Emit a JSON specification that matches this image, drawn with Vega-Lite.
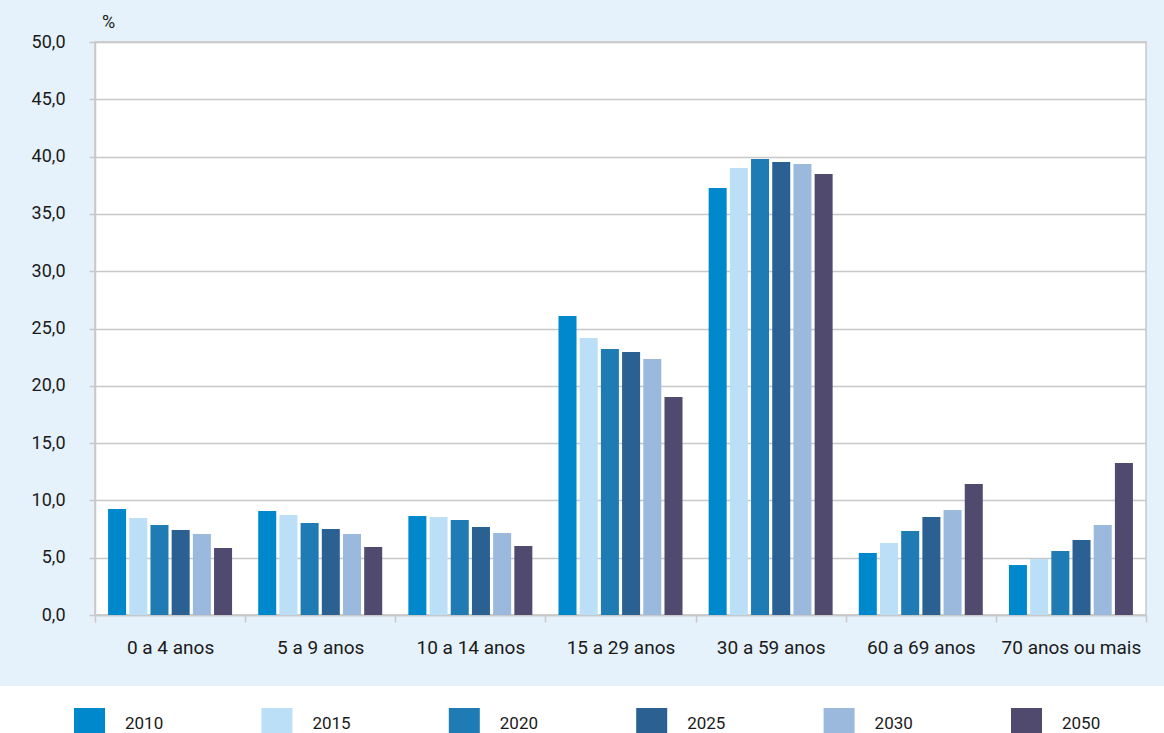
{
  "$schema": "https://vega.github.io/schema/vega-lite/v6.json",
  "width": 1051,
  "height": 573,
  "autosize": {"type": "none"},
  "padding": {"left": 95, "top": 42, "right": 18, "bottom": 118},
  "background": "#e5f1fb",
  "config": {
    "font": "Roboto",
    "view": {"fill": "white", "stroke": "#c8c8c8", "strokeWidth": 1.5}
  },
  "data": {
    "values": [
      {"grupo": "0 a 4 anos", "ano": "2010", "valor": 9.25},
      {"grupo": "0 a 4 anos", "ano": "2015", "valor": 8.46},
      {"grupo": "0 a 4 anos", "ano": "2020", "valor": 7.85},
      {"grupo": "0 a 4 anos", "ano": "2025", "valor": 7.42},
      {"grupo": "0 a 4 anos", "ano": "2030", "valor": 7.07},
      {"grupo": "0 a 4 anos", "ano": "2050", "valor": 5.85},
      {"grupo": "5 a 9 anos", "ano": "2010", "valor": 9.07},
      {"grupo": "5 a 9 anos", "ano": "2015", "valor": 8.73},
      {"grupo": "5 a 9 anos", "ano": "2020", "valor": 8.03},
      {"grupo": "5 a 9 anos", "ano": "2025", "valor": 7.5},
      {"grupo": "5 a 9 anos", "ano": "2030", "valor": 7.07},
      {"grupo": "5 a 9 anos", "ano": "2050", "valor": 5.93},
      {"grupo": "10 a 14 anos", "ano": "2010", "valor": 8.64},
      {"grupo": "10 a 14 anos", "ano": "2015", "valor": 8.55},
      {"grupo": "10 a 14 anos", "ano": "2020", "valor": 8.29},
      {"grupo": "10 a 14 anos", "ano": "2025", "valor": 7.68},
      {"grupo": "10 a 14 anos", "ano": "2030", "valor": 7.16},
      {"grupo": "10 a 14 anos", "ano": "2050", "valor": 6.02},
      {"grupo": "15 a 29 anos", "ano": "2010", "valor": 26.09},
      {"grupo": "15 a 29 anos", "ano": "2015", "valor": 24.17},
      {"grupo": "15 a 29 anos", "ano": "2020", "valor": 23.21},
      {"grupo": "15 a 29 anos", "ano": "2025", "valor": 22.95},
      {"grupo": "15 a 29 anos", "ano": "2030", "valor": 22.34},
      {"grupo": "15 a 29 anos", "ano": "2050", "valor": 19.02},
      {"grupo": "30 a 59 anos", "ano": "2010", "valor": 37.26},
      {"grupo": "30 a 59 anos", "ano": "2015", "valor": 39.0},
      {"grupo": "30 a 59 anos", "ano": "2020", "valor": 39.79},
      {"grupo": "30 a 59 anos", "ano": "2025", "valor": 39.53},
      {"grupo": "30 a 59 anos", "ano": "2030", "valor": 39.35},
      {"grupo": "30 a 59 anos", "ano": "2050", "valor": 38.48},
      {"grupo": "60 a 69 anos", "ano": "2010", "valor": 5.41},
      {"grupo": "60 a 69 anos", "ano": "2015", "valor": 6.28},
      {"grupo": "60 a 69 anos", "ano": "2020", "valor": 7.33},
      {"grupo": "60 a 69 anos", "ano": "2025", "valor": 8.55},
      {"grupo": "60 a 69 anos", "ano": "2030", "valor": 9.16},
      {"grupo": "60 a 69 anos", "ano": "2050", "valor": 11.43},
      {"grupo": "70 anos ou mais", "ano": "2010", "valor": 4.36},
      {"grupo": "70 anos ou mais", "ano": "2015", "valor": 4.89},
      {"grupo": "70 anos ou mais", "ano": "2020", "valor": 5.58},
      {"grupo": "70 anos ou mais", "ano": "2025", "valor": 6.54},
      {"grupo": "70 anos ou mais", "ano": "2030", "valor": 7.85},
      {"grupo": "70 anos ou mais", "ano": "2050", "valor": 13.26}
    ]
  },
  "mark": {"type": "bar"},
  "encoding": {
    "x": {
      "field": "grupo",
      "type": "nominal",
      "sort": ["0 a 4 anos", "5 a 9 anos", "10 a 14 anos", "15 a 29 anos", "30 a 59 anos", "60 a 69 anos", "70 anos ou mais"],
      "scale": {"paddingInner": 0, "paddingOuter": 0},
      "axis": {
        "title": null,
        "labelAngle": 0,
        "tickBand": "extent",
        "tickSize": 7,
        "tickColor": "#c8c8c8",
        "tickWidth": 1.5,
        "domainColor": "#c8c8c8",
        "domainWidth": 1.5,
        "labelFontSize": 19,
        "labelColor": "#1a1a1a",
        "labelPadding": 16,
        "grid": false
      }
    },
    "xOffset": {
      "field": "ano",
      "type": "nominal",
      "scale": {"paddingInner": 0.15, "paddingOuter": 0.617}
    },
    "y": {
      "field": "valor",
      "type": "quantitative",
      "scale": {"domain": [0, 50], "nice": false},
      "axis": {
        "values": [0, 5, 10, 15, 20, 25, 30, 35, 40, 45, 50],
        "labelExpr": "replace(format(datum.value, '.1f'), '.', ',')",
        "title": "%",
        "titleAngle": 0,
        "titleX": 13,
        "titleY": -20,
        "titleAlign": "center",
        "titleBaseline": "middle",
        "titleFontSize": 18,
        "titleFontWeight": "normal",
        "titleColor": "#1a1a1a",
        "gridColor": "#c8c8c8",
        "gridWidth": 1.5,
        "tickSize": 6,
        "tickColor": "#c8c8c8",
        "tickWidth": 1.5,
        "domainColor": "#c8c8c8",
        "domainWidth": 1.5,
        "labelFontSize": 18,
        "labelColor": "#1a1a1a",
        "labelPadding": 24
      }
    },
    "color": {
      "field": "ano",
      "type": "nominal",
      "scale": {
        "domain": ["2010", "2015", "2020", "2025", "2030", "2050"],
        "range": ["#0088cc", "#bbdff7", "#1f7bb4", "#2a6192", "#9ab9dd", "#4f4a6e"]
      },
      "legend": {
        "title": " ",
        "titleOrient": "right",
        "titlePadding": 50,
        "titleFontSize": 12,
        "orient": "none",
        "legendX": -95,
        "legendY": 644,
        "direction": "horizontal",
        "columns": 6,
        "padding": 22,
        "fillColor": "white",
        "symbolType": "square",
        "symbolSize": 961,
        "symbolStrokeWidth": 0,
        "symbolOpacity": 1,
        "symbolOffset": 52,
        "labelOffset": 20,
        "columnPadding": 45.4,
        "gridAlign": "all",
        "labelFontSize": 17,
        "labelColor": "#1a1a1a"
      }
    }
  }
}
